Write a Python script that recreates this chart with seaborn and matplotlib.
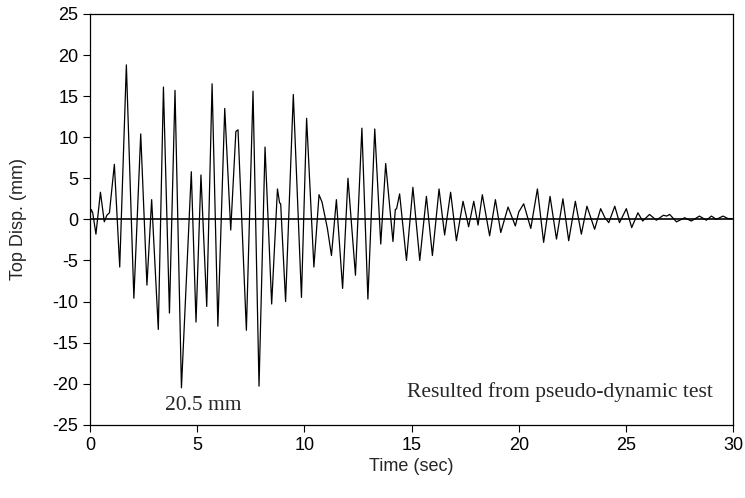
import numpy as np
import pandas as pd
import matplotlib
matplotlib.use("Agg")
import matplotlib.pyplot as plt
import seaborn as sns

# peaks / troughs (time in sec, displacement in mm)
time_s = [0.00, 0.05, 0.12, 0.27, 0.48, 0.66, 0.78, 0.90, 1.13, 1.38,
          1.69, 2.04, 2.36, 2.65, 2.87, 3.18, 3.42, 3.70, 3.96, 4.26,
          4.72, 4.94, 5.17, 5.44, 5.69, 5.96, 6.28, 6.56, 6.80, 6.90,
          7.29, 7.60, 7.88, 8.16, 8.47, 8.74, 8.84, 8.89, 9.12, 9.48,
          9.86, 10.10, 10.44, 10.68, 10.82, 11.07, 11.26, 11.49, 11.78, 12.03,
          12.38, 12.68, 12.96, 13.28, 13.56, 13.79, 14.13, 14.24, 14.30, 14.44,
          14.76, 15.06, 15.38, 15.69, 15.97, 16.28, 16.54, 16.82, 17.09, 17.40,
          17.66, 17.90, 18.10, 18.30, 18.64, 18.91, 19.16, 19.50, 19.84, 20.00,
          20.23, 20.56, 20.87, 21.16, 21.46, 21.76, 22.06, 22.33, 22.64, 22.92,
          23.18, 23.54, 23.82, 24.02, 24.20, 24.48, 24.70, 25.02, 25.27, 25.56,
          25.78, 26.10, 26.42, 26.75, 26.90, 27.04, 27.36, 27.74, 28.05, 28.43,
          28.75, 28.99, 29.22, 29.53, 29.76, 29.93]
disp_mm = [0.6, 1.2, 0.8, -1.8, 3.3, -0.3, 0.5, 0.8, 6.7, -5.8,
           18.8, -9.6, 10.4, -8.0, 2.4, -13.4, 16.1, -11.4, 15.7, -20.5,
           5.8, -12.5, 5.4, -10.6, 16.5, -13.0, 13.5, -1.3, 10.7, 10.9,
           -13.5, 15.6, -20.3, 8.8, -10.3, 3.7, 2.0, 1.9, -10.0, 15.2,
           -9.5, 12.3, -5.8, 3.0, 2.1, -1.1, -4.4, 2.4, -8.4, 5.0,
           -6.8, 11.1, -9.7, 11.0, -3.0, 6.8, -2.7, 1.2, 1.3, 3.1,
           -5.0, 3.9, -5.0, 2.8, -4.4, 3.7, -1.9, 3.3, -2.6, 2.2,
           -0.9, 2.2, -0.7, 3.0, -2.0, 2.4, -1.6, 1.5, -0.8, 0.9,
           1.9, -1.1, 3.7, -2.8, 2.8, -2.4, 2.5, -2.6, 2.2, -1.8,
           1.6, -1.2, 1.3, 0.2, -0.4, 1.6, -0.4, 1.3, -1.0, 0.8,
           -0.2, 0.6, -0.1, 0.5, 0.4, 0.6, -0.3, 0.2, -0.2, 0.4,
           -0.1, 0.4, 0.0, 0.4, 0.1, 0.1]

df = pd.DataFrame({"time": time_s, "disp": disp_mm})

sns.set_style("ticks")
plt.rcParams["font.family"] = ["Liberation Sans", "DejaVu Sans"]
plt.rcParams["axes.unicode_minus"] = False

fig = plt.figure(figsize=(7.45, 4.98), dpi=100)
ax = fig.add_axes([0.121, 0.147, 0.863, 0.825])

ax.axhline(0, color="black", lw=1.2, zorder=1)
sns.lineplot(data=df, x="time", y="disp", color="black", lw=0.9, ax=ax,
             estimator=None, sort=False)

ax.set_xlim(0, 30)
ax.set_ylim(-25, 25)
ax.set_xticks(range(0, 31, 5))
ax.set_yticks(range(-25, 26, 5))
ax.tick_params(direction="out", length=5, width=0.8, labelsize=13, colors="black")
for s in ax.spines.values():
    s.set_visible(True)
    s.set_color("black")
    s.set_linewidth(0.9)

ax.set_xlabel("Time (sec)", fontsize=13, labelpad=3)
ax.set_ylabel("Top Disp. (mm)", fontsize=13)
ax.yaxis.set_label_coords(-0.098, 0.5)

ax.text(3.48, -22.7, "20.5 mm", family="Liberation Serif", fontsize=15.5,
        ha="left", va="center")
ax.text(29.05, -21.0, "Resulted from pseudo-dynamic test", family="Liberation Serif",
        fontsize=15.5, ha="right", va="center")

fig.savefig("out.png", dpi=100)
